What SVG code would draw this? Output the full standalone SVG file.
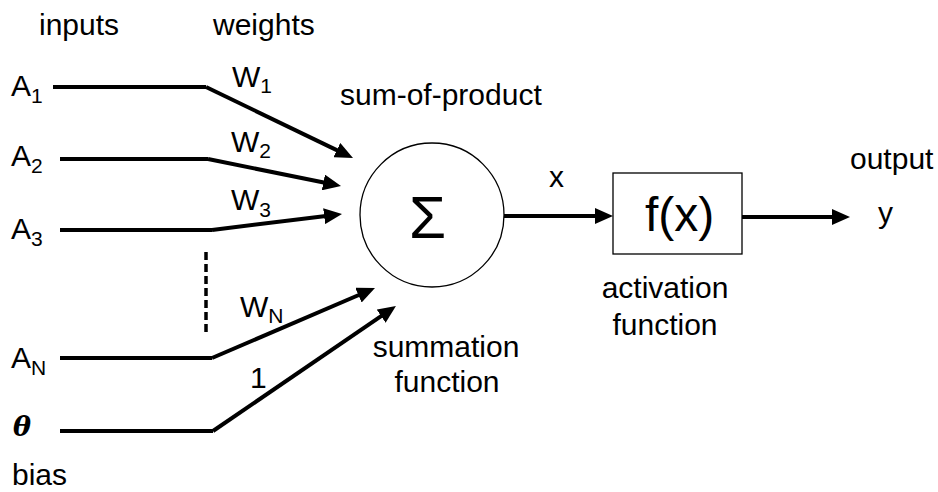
<svg xmlns="http://www.w3.org/2000/svg" width="938" height="492" viewBox="0 0 938 492">
<style>
text{font-family:"Liberation Sans",Arial,sans-serif;font-size:30px;fill:#000}
.sub{font-size:21px}
.wire{stroke:#000;stroke-width:4;fill:none}
.arr{stroke:#000;stroke-width:4;fill:none;marker-end:url(#ah)}
.shape{fill:#fff;stroke:#000;stroke-width:1.3}
</style>
<defs>
<marker id="ah" markerUnits="userSpaceOnUse" markerWidth="18" markerHeight="16" refX="8" refY="8" orient="auto" viewBox="0 0 18 16">
<path d="M0,0 L18,8 L0,16 z" fill="#000"/>
</marker>
</defs>
<g id="headers">
<text x="39" y="35">inputs</text>
<text x="213" y="35">weights</text>
</g>
<g id="inputs">
<text x="11" y="96">A<tspan class="sub" dy="7">1</tspan></text>
<text x="11" y="166">A<tspan class="sub" dy="7">2</tspan></text>
<text x="11" y="239">A<tspan class="sub" dy="7">3</tspan></text>
<text x="11" y="368">A<tspan class="sub" dy="7">N</tspan></text>
<text x="13" y="436" style="font-family:'DejaVu Serif','Liberation Serif',serif;font-style:italic;font-weight:bold;font-size:27px">θ</text>
<text x="12" y="485">bias</text>
</g>
<g id="weights">
<text x="232" y="87">W<tspan class="sub" dy="6">1</tspan></text>
<text x="231" y="152">W<tspan class="sub" dy="6">2</tspan></text>
<text x="231" y="210">W<tspan class="sub" dy="7">3</tspan></text>
<text x="240" y="317">W<tspan class="sub" dy="6">N</tspan></text>
<text x="250" y="388">1</text>
</g>
<g id="connectors">
<path class="wire" d="M53,87 H206"/>
<path class="wire" d="M60,159 H208"/>
<path class="wire" d="M60,230 H212"/>
<path class="wire" d="M60,358 H212"/>
<path class="wire" d="M60,431 H213"/>
<path d="M206,252 V332" stroke="#000" stroke-width="3.5" stroke-dasharray="8,4" fill="none"/>
<path class="arr" d="M206,87 L344,153.6"/>
<path class="arr" d="M208,159 L331.2,184"/>
<path class="arr" d="M212,230 L332.1,215.2"/>
<path class="arr" d="M212,358 L365.8,292"/>
<path class="arr" d="M213,431 L387.7,311.6"/>
<path class="arr" d="M504,216 H603"/>
<path class="arr" d="M742,217 H840"/>
</g>
<g id="sum">
<circle class="shape" cx="432" cy="215" r="72"/>
<text x="427.5" y="238" text-anchor="middle" style="font-size:60px">Σ</text>
<text x="340" y="105">sum-of-product</text>
<text x="446" y="357" text-anchor="middle">summation</text>
<text x="447" y="392" text-anchor="middle">function</text>
</g>
<text x="549" y="187">x</text>
<g id="activation">
<rect class="shape" x="613" y="173" width="129" height="81"/>
<text x="645" y="231" style="font-size:48px">f(x)</text>
<text x="665" y="298" text-anchor="middle">activation</text>
<text x="665" y="335" text-anchor="middle">function</text>
</g>
<g id="output">
<text x="850" y="169">output</text>
<text x="878" y="223">y</text>
</g>
</svg>
